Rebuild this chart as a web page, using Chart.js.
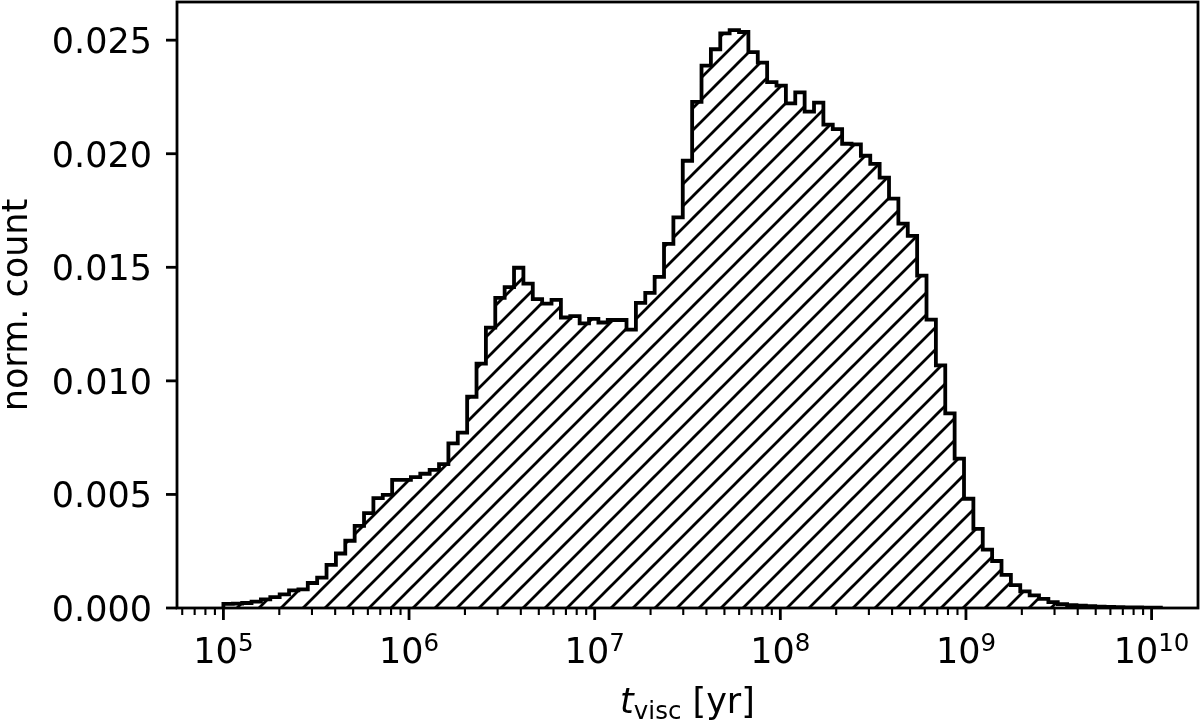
<!DOCTYPE html>
<html>
<head>
<meta charset="utf-8">
<script src="https://cdn.jsdelivr.net/npm/chart.js@4/dist/chart.umd.min.js"></script>
<style>
html,body{margin:0;padding:0;background:#ffffff;}
canvas{display:block;}
</style>
</head>
<body>
<canvas id="c" width="1200" height="726"></canvas>
<script>
// ---- data ----
const binStartExp = 5.0;      // first bin edge = 10^5 yr
const binWidthDex = 0.0505;   // width of each log bin (dex)
const normCount = [
  0.00018, 0.00019, 0.00022, 0.00028, 0.00038, 0.00048, 0.00060, 0.00078, 0.00082, 0.00110,
  0.00134, 0.00190, 0.00240, 0.00296, 0.00362, 0.00418, 0.00484, 0.00498, 0.00564, 0.00564,
  0.00576, 0.00591, 0.00608, 0.00633, 0.00725, 0.00772, 0.00930, 0.01076, 0.01234, 0.01365,
  0.01413, 0.01498, 0.01428, 0.01360, 0.01340, 0.01357, 0.01279, 0.01285, 0.01253, 0.01273,
  0.01257, 0.01268, 0.01268, 0.01226, 0.01343, 0.01387, 0.01458, 0.01603, 0.01720, 0.01969,
  0.02228, 0.02388, 0.02460, 0.02530, 0.02544, 0.02536, 0.02447, 0.02401, 0.02315, 0.02300,
  0.02222, 0.02270, 0.02185, 0.02225, 0.02128, 0.02108, 0.02044, 0.02041, 0.01991, 0.01955,
  0.01895, 0.01802, 0.01692, 0.01638, 0.01463, 0.01270, 0.01068, 0.00857, 0.00658, 0.00481,
  0.00348, 0.00257, 0.00207, 0.00146, 0.00101, 0.00073, 0.00056, 0.00040, 0.00026, 0.00017,
  0.00012, 0.00010, 0.00008, 0.00006, 0.00005, 0.00004, 0.00003, 0.00003, 0.00002, 0.00002
];
const yTickValues = [0, 0.005, 0.010, 0.015, 0.020, 0.025];
const xMajorExps = [5, 6, 7, 8, 9, 10];
const xLimExp = [4.75, 10.25];
const yLim = [0, 0.02668];
const xTitleParts = ['t', 'visc', ' [yr]'];
const yTitle = 'norm. count';

// ---- step outline points built from the bins ----
const points = [{x: Math.pow(10, binStartExp), y: 0}];
normCount.forEach((v, i) => points.push({x: Math.pow(10, binStartExp + i * binWidthDex), y: v}));
points.push({x: Math.pow(10, binStartExp + normCount.length * binWidthDex), y: 0});

// ---- hatch pattern ("//") ----
function makeHatch() {
  const s = 22;
  const c = document.createElement('canvas');
  c.width = s; c.height = s;
  const g = c.getContext('2d');
  g.strokeStyle = '#000';
  g.lineWidth = 2.8;
  g.beginPath();
  g.moveTo(-3, s + 3); g.lineTo(s + 3, -3);
  g.moveTo(-3, 3); g.lineTo(3, -3);
  g.moveTo(s - 3, s + 3); g.lineTo(s + 3, s - 3);
  g.stroke();
  const p = g.createPattern(c, 'repeat');
  if (p.setTransform) p.setTransform(new DOMMatrix().translate(9, 0));
  return p;
}

const FONT = '"DejaVu Sans", "Liberation Sans", sans-serif';

const axesPlugin = {
  id: 'mplAxes',
  afterDraw(chart) {
    const ctx = chart.ctx;
    const a = chart.chartArea;
    const xs = chart.scales.x, ys = chart.scales.y;
    ctx.save();
    ctx.fillStyle = '#000';
    ctx.strokeStyle = '#000';
    ctx.lineCap = 'butt';

    // frame
    ctx.lineWidth = 2.8;
    ctx.strokeRect(a.left, a.top, a.right - a.left, a.bottom - a.top);

    // y ticks + labels
    ctx.font = '35px ' + FONT;
    ctx.textAlign = 'right';
    ctx.textBaseline = 'alphabetic';
    yTickValues.forEach(v => {
      const y = ys.getPixelForValue(v);
      ctx.lineWidth = 2.8;
      ctx.beginPath(); ctx.moveTo(a.left, y); ctx.lineTo(a.left - 11, y); ctx.stroke();
      ctx.fillText(v.toFixed(3), 152, y + 12.8);
    });

    // x minor ticks
    const lo = Math.pow(10, xLimExp[0]), hi = Math.pow(10, xLimExp[1]);
    ctx.lineWidth = 2.1;
    for (let e = Math.floor(xLimExp[0]); e <= Math.ceil(xLimExp[1]); e++) {
      for (let m = 2; m <= 9; m++) {
        const v = m * Math.pow(10, e);
        if (v < lo || v > hi) continue;
        const x = xs.getPixelForValue(v);
        ctx.beginPath(); ctx.moveTo(x, a.bottom); ctx.lineTo(x, a.bottom + 7); ctx.stroke();
      }
    }
    // x major ticks + labels (10^n)
    xMajorExps.forEach(e => {
      const x = xs.getPixelForValue(Math.pow(10, e));
      ctx.lineWidth = 2.8;
      ctx.beginPath(); ctx.moveTo(x, a.bottom); ctx.lineTo(x, a.bottom + 12); ctx.stroke();
      ctx.textAlign = 'left';
      ctx.font = '35px ' + FONT;
      const wBase = ctx.measureText('10').width;
      ctx.font = '24.5px ' + FONT;
      const wExp = ctx.measureText(String(e)).width;
      const start = x - (wBase + wExp) / 2;
      ctx.font = '35px ' + FONT;
      ctx.fillText('10', start, 663);
      ctx.font = '24.5px ' + FONT;
      ctx.fillText(String(e), start + wBase, 651);
    });

    // x title: t_visc [yr]
    const cx = (a.left + a.right) / 2;
    ctx.textAlign = 'left';
    ctx.font = 'italic 35px ' + FONT;
    const w0 = ctx.measureText(xTitleParts[0]).width;
    ctx.font = '24.5px ' + FONT;
    const w1 = ctx.measureText(xTitleParts[1]).width;
    ctx.font = '35px ' + FONT;
    const w2 = ctx.measureText(xTitleParts[2]).width;
    let sx = cx - (w0 + w1 + w2) / 2;
    ctx.font = 'italic 35px ' + FONT;
    ctx.fillText(xTitleParts[0], sx, 713);
    sx += w0;
    ctx.font = '24.5px ' + FONT;
    ctx.fillText(xTitleParts[1], sx, 719);
    sx += w1;
    ctx.font = '35px ' + FONT;
    ctx.fillText(xTitleParts[2], sx, 713);

    // y title
    ctx.save();
    ctx.translate(27, (a.top + a.bottom) / 2);
    ctx.rotate(-Math.PI / 2);
    ctx.textAlign = 'center';
    ctx.font = '35px ' + FONT;
    ctx.fillText(yTitle, 0, 0);
    ctx.restore();

    ctx.restore();
  }
};

new Chart(document.getElementById('c'), {
  type: 'line',
  data: {
    datasets: [{
      data: points,
      stepped: 'before',
      borderColor: '#000',
      borderWidth: 3.8,
      borderJoinStyle: 'miter',
      borderCapStyle: 'butt',
      pointRadius: 0,
      tension: 0,
      fill: 'origin',
      backgroundColor: makeHatch()
    }]
  },
  options: {
    responsive: false,
    animation: false,
    devicePixelRatio: 1,
    layout: {padding: {left: 177, top: 2, right: 2, bottom: 118}},
    scales: {
      x: {type: 'logarithmic', min: Math.pow(10, xLimExp[0]), max: Math.pow(10, xLimExp[1]), display: false},
      y: {type: 'linear', min: yLim[0], max: yLim[1], display: false}
    },
    plugins: {legend: {display: false}, tooltip: {enabled: false}}
  },
  plugins: [axesPlugin]
});
</script>
</body>
</html>
